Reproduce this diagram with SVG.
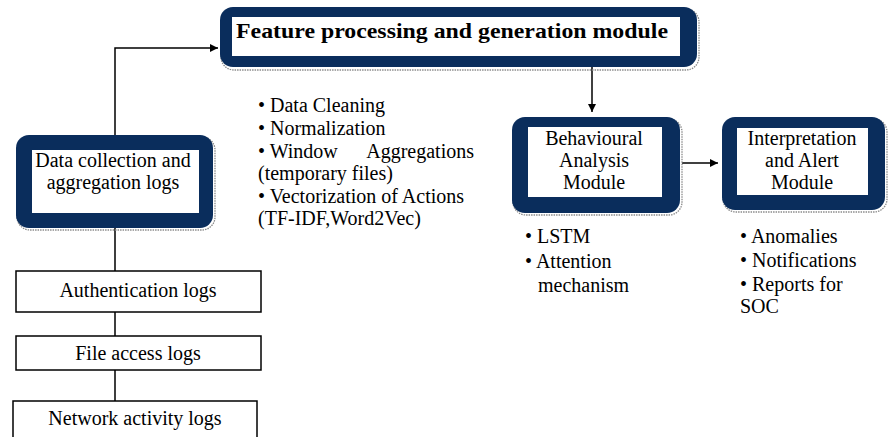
<svg xmlns="http://www.w3.org/2000/svg" width="890" height="437" viewBox="0 0 890 437">
<style>
text{font-family:"Liberation Serif","Times New Roman",serif;fill:#000;font-size:20px}
.b{font-weight:bold;font-size:22px}
.c{text-anchor:middle}
.outer{fill:#0a2d5c}
.inner{fill:#fff}
.sh{fill:none;stroke:#8a8a8a;stroke-width:1.3;stroke-dasharray:1.5 1}
.box{fill:#fff;stroke:#000;stroke-width:1.5}
.ln{fill:none;stroke:#000;stroke-width:1.5}
</style>
<defs>
<marker id="ah" viewBox="0 0 10 10" refX="10" refY="5" markerWidth="8" markerHeight="8" orient="auto" markerUnits="userSpaceOnUse">
<path d="M0,0 L10,5 L0,10 z" fill="#000"/>
</marker>
</defs>
<rect width="890" height="437" fill="#fff"/>
<g id="connectors">
<path class="ln" d="M115,135 V48 H218" marker-end="url(#ah)"/>
<path class="ln" d="M592,67 V112" marker-end="url(#ah)"/>
<path class="ln" d="M682,163 H718" marker-end="url(#ah)"/>
<path class="ln" d="M115,228 V271 M115,312 V336 M115,370 V401"/>
</g>
<g id="feature">
<rect class="sh" x="221" y="9" width="478" height="61" rx="13"/>
<rect class="outer" x="220" y="7" width="477" height="60" rx="13"/>
<rect class="inner" x="232" y="17" width="448" height="39"/>
<text class="b" x="236" y="38" textLength="432" lengthAdjust="spacingAndGlyphs">Feature processing and generation module</text>
</g>
<g id="data-collection">
<rect class="sh" x="17" y="137" width="198" height="93" rx="13"/>
<rect class="outer" x="16" y="135" width="197" height="93" rx="13"/>
<rect class="inner" x="32" y="150" width="167" height="63"/>
<text class="c" x="113" y="167">Data collection and</text>
<text class="c" x="113" y="189">aggregation logs</text>
</g>
<g id="feature-list">
<text x="258" y="112">• Data Cleaning</text>
<text x="258" y="135">• Normalization</text>
<text x="258" y="158">• Window</text>
<text x="474" y="158" text-anchor="end">Aggregations</text>
<text x="258" y="180">(temporary files)</text>
<text x="258" y="203">• Vectorization of Actions</text>
<text x="258" y="225">(TF-IDF,Word2Vec)</text>
</g>
<g id="behavioural">
<rect class="sh" x="513" y="119" width="169" height="96" rx="13"/>
<rect class="outer" x="512" y="117" width="168" height="96" rx="13"/>
<rect class="inner" x="528" y="127" width="134" height="70"/>
<text class="c" x="594" y="145">Behavioural</text>
<text class="c" x="594" y="167">Analysis</text>
<text class="c" x="594" y="189">Module</text>
</g>
<g id="behavioural-list">
<text x="525" y="243">• LSTM</text>
<text x="525" y="268">• Attention</text>
<text x="538" y="292">mechanism</text>
</g>
<g id="interpretation">
<rect class="sh" x="723" y="119" width="164" height="93" rx="13"/>
<rect class="outer" x="722" y="117" width="163" height="93" rx="13"/>
<rect class="inner" x="737" y="128" width="131" height="67"/>
<text class="c" x="802" y="145">Interpretation</text>
<text class="c" x="802" y="167">and Alert</text>
<text class="c" x="802" y="189">Module</text>
</g>
<g id="interpretation-list">
<text x="740" y="243">• Anomalies</text>
<text x="740" y="267">• Notifications</text>
<text x="740" y="291">• Reports for</text>
<text x="740" y="313">SOC</text>
</g>
<g id="auth-logs">
<rect class="box" x="16" y="271" width="245" height="41"/>
<text class="c" x="138" y="297">Authentication logs</text>
</g>
<g id="file-logs">
<rect class="box" x="16" y="336" width="245" height="34"/>
<text class="c" x="138" y="360">File access logs</text>
</g>
<g id="network-logs">
<rect class="box" x="13" y="401" width="244" height="40"/>
<text class="c" x="135" y="425">Network activity logs</text>
</g>
</svg>
